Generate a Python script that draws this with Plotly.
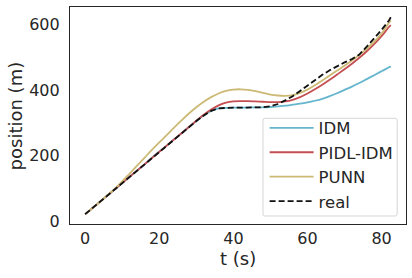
import plotly.graph_objects as go

t = [0, 2, 4, 6, 8, 10, 12, 14, 16, 18, 20, 22, 24, 26, 28, 30, 32, 34, 36, 38, 40,
     42, 44, 46, 48, 50, 52, 54, 56, 58, 60, 62, 64, 66, 68, 70, 72, 74, 76, 78, 80, 82, 82.5]

idm = [21, 40, 59, 78, 97, 116, 135, 154, 173, 193, 212, 230, 249, 268, 287, 305, 322, 336, 344, 345, 346,
       346, 346, 347, 347, 348, 350, 352, 355, 358, 362, 367, 373, 381, 390, 400, 410, 421, 433, 445, 457, 469, 472]

pidl_idm = [21, 40, 59, 78, 97, 116, 135, 154, 173, 192, 211, 230, 249, 268, 287, 306, 324, 340, 353, 361, 365,
            366, 366, 365, 364, 363, 363, 365, 370, 378, 389, 402, 416, 431, 447, 463, 480, 498, 518, 540, 564, 592, 598]

punn = [21, 40, 59, 79, 99, 121, 145, 169, 193, 217, 240, 262, 285, 307, 328, 347, 364, 378, 389, 397, 401,
        402, 400, 396, 391, 386, 383, 382, 384, 391, 401, 414, 429, 444, 459, 474, 490, 507, 526, 547, 572, 605, 612]

real = [21, 40, 59, 78, 97, 116, 135, 154, 173, 193, 212, 230, 249, 268, 287, 305, 322, 336, 344, 346, 346,
        346, 346, 346, 347, 350, 357, 368, 381, 397, 414, 430, 446, 460, 473, 484, 494, 508, 532, 556, 583, 612, 622]

series = [
    ("IDM", idm, "#64B5CD"),
    ("PIDL-IDM", pidl_idm, "#C44E52"),
    ("PUNN", punn, "#CCB974"),
]

fig = go.Figure()
for name, vals, col in series:
    fig.add_trace(go.Scatter(x=t, y=vals, mode="lines", name=name,
                             line=dict(color=col, width=1.8, shape="spline")))
fig.add_trace(go.Scatter(x=t, y=real, mode="lines", name="real",
                         line=dict(color="#111111", width=1.8, dash="6px,3px")))

# legend frame (rounded rectangle, paper coordinates)
x0, x1, y0, y1 = 0.5744, 0.9738, 0.0369, 0.4871
rx, ry = 0.006, 0.0092
frame = (f"M{x0+rx},{y0} L{x1-rx},{y0} Q{x1},{y0} {x1},{y0+ry} "
         f"L{x1},{y1-ry} Q{x1},{y1} {x1-rx},{y1} "
         f"L{x0+rx},{y1} Q{x0},{y1} {x0},{y1-ry} "
         f"L{x0},{y0+ry} Q{x0},{y0} {x0+rx},{y0} Z")

axcol = "#262626"
fig.update_layout(
    width=412, height=278,
    margin=dict(l=70, r=6, t=7, b=54),
    paper_bgcolor="white", plot_bgcolor="white",
    font=dict(family="DejaVu Sans", size=16, color=axcol),
    showlegend=True,
    shapes=[dict(type="path", path=frame, xref="paper", yref="paper",
                 fillcolor="white", line=dict(color="#d6d6d6", width=1), layer="above")],
    legend=dict(x=0.978, y=0.025, xanchor="right", yanchor="bottom",
                bgcolor="rgba(0,0,0,0)", borderwidth=0,
                font=dict(size=16.5, color=axcol), itemwidth=44,
                tracegroupgap=0),
    xaxis=dict(range=[-4.1, 86.6], tickvals=[0, 20, 40, 60, 80], showgrid=False,
               zeroline=False, showline=True, linecolor=axcol, linewidth=1.2,
               mirror=True, ticks="", automargin=False),
    yaxis=dict(range=[-9, 653], tickvals=[0, 200, 400, 600], showgrid=False,
               zeroline=False, showline=True, linecolor=axcol, linewidth=1.2,
               mirror=True, ticks="", ticklabelstandoff=6, automargin=False),
    annotations=[
        dict(text="t (s)", xref="paper", yref="paper", x=0.5, y=-0.16,
             xanchor="center", yanchor="middle", showarrow=False,
             font=dict(size=18, color=axcol)),
        dict(text="position (m)", xref="paper", yref="paper", x=-0.161, y=0.5,
             xanchor="center", yanchor="middle", showarrow=False, textangle=-90,
             font=dict(size=18, color=axcol)),
    ],
)

fig.write_html("out.html", config={"displayModeBar": False},
               post_script="document.body.style.margin='0px';")
